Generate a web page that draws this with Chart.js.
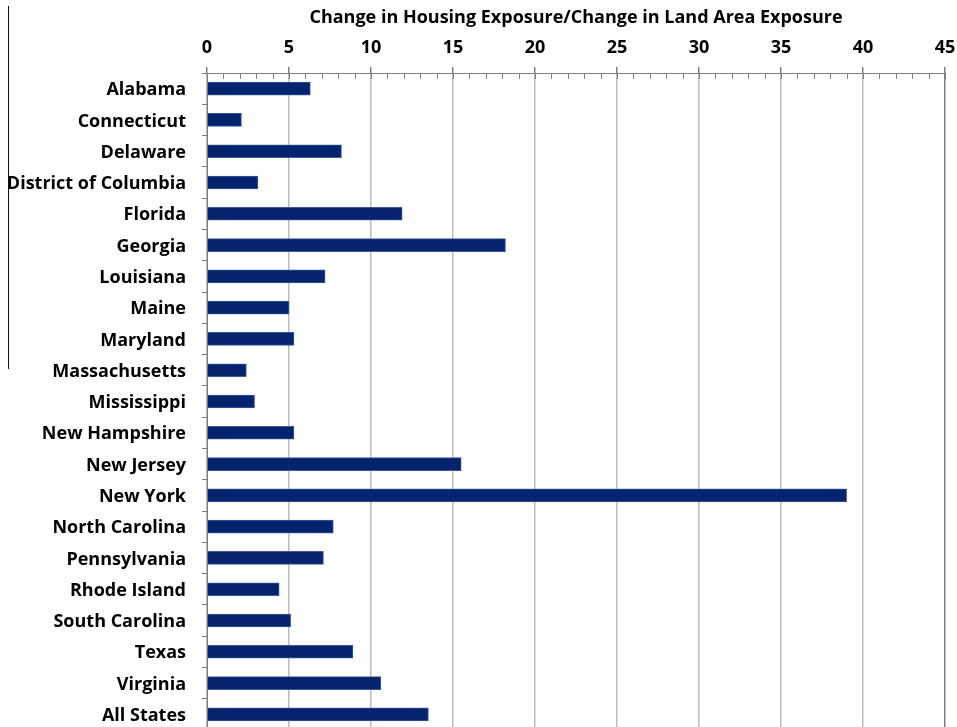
<!DOCTYPE html>
<html>
<head>
<meta charset="utf-8">
<script src="https://cdn.jsdelivr.net/npm/chart.js@4"></script>
<style>
  html, body { margin:0; padding:0; background:#fff; overflow:hidden; }
  #wrap { position:absolute; left:0; top:0; width:957px; height:730px; }
</style>
</head>
<body>
<div id="wrap"><canvas id="ratioChart"></canvas></div>
<script>
// states, top to bottom
const states = [
  'Alabama','Connecticut','Delaware','District of Columbia','Florida','Georgia',
  'Louisiana','Maine','Maryland','Massachusetts','Mississippi','New Hampshire',
  'New Jersey','New York','North Carolina','Pennsylvania','Rhode Island',
  'South Carolina','Texas','Virginia','All States'
];
// housing exposure change / land area exposure change
const ratios = [
  6.3, 2.1, 8.2, 3.1, 11.9, 18.2,
  7.2, 5.0, 5.3, 2.4, 2.9, 5.3,
  15.5, 39.0, 7.7, 7.1, 4.4,
  5.1, 8.9, 10.6, 13.5
];
const xMin = 0, xMax = 45, xStep = 5;
const axisTitle = 'Change in Housing Exposure/Change in Land Area Exposure';

const FONT = '"Open Sans", Lato, sans-serif';
const labelFont = {family:FONT, size:18, weight:'bold'};

// small inward ticks on every whole unit of the top axis, plus the stray rule on the far left
const axisExtras = {
  id:'axisExtras',
  afterDraw(chart){
    const {ctx, chartArea, scales:{x}} = chart;
    ctx.save();
    ctx.strokeStyle = '#7f7f7f';
    ctx.lineWidth = 1;
    ctx.beginPath();
    for(let v = xMin; v <= xMax; v++){
      const px = Math.round(x.getPixelForValue(v)) + 0.5;
      ctx.moveTo(px, chartArea.top);
      ctx.lineTo(px, chartArea.top + 6);
    }
    ctx.stroke();
    ctx.strokeStyle = '#111';
    ctx.beginPath();
    ctx.moveTo(8.5, 6);
    ctx.lineTo(8.5, 369);
    ctx.stroke();
    ctx.restore();
  }
};

new Chart(document.getElementById('ratioChart'), {
  type:'bar',
  data:{
    labels: states,
    datasets:[{
      data: ratios,
      backgroundColor:'#06236e',
      borderColor:'#3d5a9e',
      borderWidth:1,
      barThickness:13
    }]
  },
  plugins:[axisExtras],
  options:{
    indexAxis:'y',
    responsive:true,
    maintainAspectRatio:false,
    animation:false,
    layout:{ padding:{ left:0, right:12, top:0, bottom:0 } },
    plugins:{ legend:{display:false}, tooltip:{enabled:false} },
    scales:{
      x:{
        position:'top',
        min:xMin, max:xMax,
        afterFit(s){ s.height = 73; s.paddingLeft = 0; s.paddingRight = 0; },
        ticks:{ stepSize:xStep, color:'#000', padding:8, font:labelFont },
        grid:{
          color: c => c.tick && c.tick.value === xMax ? '#808080' : '#bcbcbc',
          lineWidth:1.5,
          tickColor:'#7f7f7f',
          tickLength:6
        },
        border:{ color:'#7f7f7f', width:1 },
        title:{
          display:true, text:axisTitle, color:'#000',
          padding:{top:7, bottom:0},
          font:labelFont
        }
      },
      y:{
        afterFit(s){ s.width = 207; s.paddingTop = 0; s.paddingBottom = 0; },
        ticks:{ color:'#000', padding:16, labelOffset:1.5, font:labelFont },
        grid:{ drawOnChartArea:false, offset:true, tickLength:5, tickColor:'#7f7f7f' },
        border:{ color:'#7f7f7f', width:1 }
      }
    }
  }
});
</script>
</body>
</html>
